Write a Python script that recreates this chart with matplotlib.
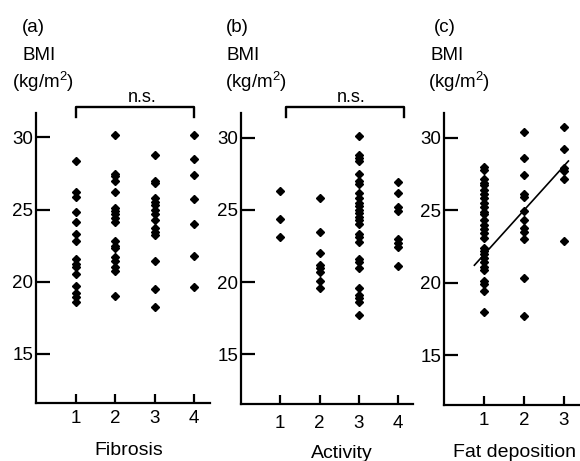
import matplotlib
matplotlib.use("Agg")
import matplotlib.pyplot as plt
import numpy as np

plt.rcParams["font.family"] = ["Liberation Sans", "DejaVu Sans"]
plt.rcParams["mathtext.fontset"] = "custom"
plt.rcParams["mathtext.rm"] = "Liberation Sans"
plt.rcParams["mathtext.default"] = "regular"

# BMI values, one list per grade
fibrosis = {
    1: [28.4, 26.2, 25.9, 24.8, 24.1, 23.3, 22.8, 21.6, 21.2, 21.0, 20.5, 19.7, 19.2, 18.9, 18.6],
    2: [30.2, 27.5, 27.3, 27.0, 26.2, 25.1, 24.9, 24.7, 24.4, 24.1, 22.8, 22.5, 22.3, 21.7,
        21.4, 21.0, 20.7, 19.0],
    3: [28.8, 27.0, 26.85, 25.8, 25.5, 25.3, 25.0, 24.7, 24.3, 23.7, 23.45, 23.2, 21.4, 19.5, 18.2],
    4: [30.2, 28.5, 27.4, 25.7, 24.0, 21.8, 19.6],
}
activity = {
    1: [26.3, 24.4, 23.1],
    2: [25.8, 23.5, 22.0, 21.2, 21.0, 20.7, 20.1, 19.6],
    3: [30.1, 28.8, 28.6, 28.4, 27.5, 27.0, 26.8, 26.2, 25.8, 25.5, 25.3, 25.0, 24.8, 24.5,
        24.3, 24.0, 23.3, 23.1, 22.8, 21.6, 21.4, 21.0, 19.6, 19.1, 18.9, 18.6, 17.7],
    4: [26.9, 26.2, 25.2, 24.9, 23.0, 22.7, 22.4, 21.1],
}
fat = {
    1: [27.96, 27.8, 27.15, 26.9, 26.7, 26.4, 26.1, 25.8, 25.5, 25.2, 24.9, 24.7, 24.3, 24.0,
        23.7, 23.4, 23.1, 22.4, 22.2, 22.0, 21.7, 21.4, 21.1, 20.9, 20.1, 19.9, 19.4, 18.0],
    2: [30.4, 28.6, 27.45, 26.1, 25.9, 24.95, 24.3, 23.75, 23.5, 23.0, 20.3, 17.7],
    3: [30.7, 29.2, 27.9, 27.7, 27.15, 22.9],
}
y_ticks = [15, 20, 25, 30]

# regression line in panel (c)
fit_slope = 3.06
fit_intercept = 18.87
fit_x = [0.76, 3.11]

W, H = 580, 461
fig = plt.figure(figsize=(W / 100, H / 100), dpi=100)


def add_panel(left, bottom, right, top):
    ax = fig.add_axes([left / W, 1 - bottom / H, (right - left) / W, (bottom - top) / H])
    for s in ("top", "right"):
        ax.spines[s].set_visible(False)
    for s in ("left", "bottom"):
        ax.spines[s].set_linewidth(1.6)
    ax.set_ylim(11.55, 31.7)
    ax.set_yticks(y_ticks)
    ax.tick_params(axis="y", direction="in", length=10, width=1.6, pad=2, labelsize=13.5)
    ax.tick_params(axis="x", direction="in", length=6.5, width=1.6, pad=5, labelsize=13.5)
    return ax


def scatter(ax, groups):
    for k, vals in groups.items():
        ax.plot([k] * len(vals), vals, "D", color="black", markersize=4, mec="black")


def header(x_letter, x_bmi, x_unit, letter):
    fig.text(x_letter / W, 1 - 27 / H, letter, fontsize=13.5, va="center")
    fig.text(x_bmi / W, 1 - 55 / H, "BMI", fontsize=13.5, va="center")
    fig.text(x_unit / W, 1 - 82 / H, "(kg/m$^{2}$)", fontsize=13.5, va="center")


def bracket(ax, x0, x1, xt):
    ax.plot([x0, x0, x1, x1], [31.45, 32.1, 32.1, 31.45], color="black", lw=1.7, clip_on=False)
    ax.text(xt, 32.8, "n.s.", fontsize=13, ha="center", va="center")


# (a) Fibrosis
ax1 = add_panel(36, 403.3, 210, 113)
scatter(ax1, fibrosis)
ax1.set_xlim(0, 4.4)
ax1.set_xticks(list(fibrosis.keys()))
ax1.set_xlabel("Fibrosis", fontsize=14)
ax1.xaxis.set_label_coords(0.534, -0.135)
bracket(ax1, 1, 4, 2.68)
header(22, 23, 12, "(a)")

# (b) Activity
ax2 = add_panel(241, 404.3, 413, 113)
scatter(ax2, activity)
ax2.set_xlim(0, 4.38)
ax2.set_xticks(list(activity.keys()))
ax2.tick_params(axis="x", pad=8)
ax2.set_xlabel("Activity", fontsize=14)
ax2.xaxis.set_label_coords(0.585, -0.14)
bracket(ax2, 1.15, 4.15, 2.81)
header(226, 226, 225, "(b)")

# (c) Fat deposition
ax3 = add_panel(444, 405, 582, 113)
scatter(ax3, fat)
ax3.set_xlim(0, 3.45)
ax3.set_xticks(list(fat.keys()))
fx = np.array(fit_x)
ax3.plot(fx, fit_intercept + fit_slope * fx, color="black", lw=1.2)
ax3.set_xlabel("Fat deposition", fontsize=14)
ax3.xaxis.set_label_coords(0.51, -0.133)
header(434, 430, 428, "(c)")

fig.savefig("out.png", dpi=100)
